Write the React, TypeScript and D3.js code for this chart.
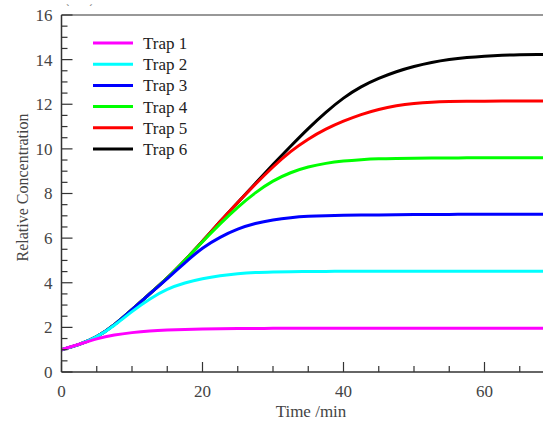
import React from "react";
import * as d3 from "d3";

const times = [0, 2.5, 5, 7.5, 10, 12.5, 15, 17.5, 20, 22.5, 25, 27.5, 30, 32.5, 35, 37.5, 40, 42.5, 45, 47.5, 50, 52.5, 55, 57.5, 60, 62.5, 65, 67.5, 70];

const trap1 = [1.0, 1.24, 1.5, 1.67, 1.77, 1.84, 1.88, 1.91, 1.93, 1.94, 1.95, 1.95, 1.96, 1.96, 1.96, 1.96, 1.96, 1.96, 1.96, 1.96, 1.96, 1.96, 1.96, 1.96, 1.96, 1.96, 1.96, 1.96, 1.96];
const trap2 = [1.0, 1.22, 1.55, 2.08, 2.72, 3.28, 3.73, 4.0, 4.19, 4.32, 4.41, 4.46, 4.48, 4.5, 4.5, 4.51, 4.51, 4.52, 4.52, 4.52, 4.52, 4.52, 4.52, 4.52, 4.52, 4.52, 4.52, 4.52, 4.52];
const trap3 = [1.0, 1.22, 1.55, 2.1, 2.8, 3.5, 4.18, 4.9, 5.58, 6.05, 6.42, 6.67, 6.82, 6.92, 6.98, 7.01, 7.03, 7.04, 7.04, 7.05, 7.06, 7.06, 7.06, 7.07, 7.07, 7.07, 7.07, 7.07, 7.07];
const trap4 = [1.0, 1.22, 1.55, 2.1, 2.8, 3.5, 4.2, 5.0, 5.85, 6.65, 7.4, 8.05, 8.58, 8.95, 9.2, 9.36, 9.46, 9.52, 9.56, 9.57, 9.58, 9.59, 9.59, 9.6, 9.6, 9.6, 9.6, 9.6, 9.6];
const trap5 = [1.0, 1.22, 1.55, 2.1, 2.8, 3.5, 4.2, 5.0, 5.85, 6.75, 7.6, 8.42, 9.2, 9.9, 10.45, 10.9, 11.25, 11.55, 11.78, 11.94, 12.04, 12.1, 12.12, 12.13, 12.14, 12.15, 12.15, 12.15, 12.15];
const trap6 = [1.0, 1.22, 1.55, 2.1, 2.8, 3.5, 4.2, 5.0, 5.85, 6.75, 7.6, 8.45, 9.3, 10.12, 10.92, 11.65, 12.3, 12.8, 13.17, 13.47, 13.7, 13.88, 14.01, 14.1, 14.16, 14.2, 14.22, 14.23, 14.24];

const seriesNames = ["Trap 1", "Trap 2", "Trap 3", "Trap 4", "Trap 5", "Trap 6"];
const seriesValues = [trap1, trap2, trap3, trap4, trap5, trap6];
const seriesColors = ["#ff00ff", "#00ffff", "#0000ff", "#00ff00", "#ff0000", "#000000"];

const xTicks = [0, 20, 40, 60];
const yTicks = [0, 2, 4, 6, 8, 10, 12, 14, 16];

const W = 543;
const H = 422;
const left = 61.5;
const top = 15;
const bottom = 372;
const pxPerMin = 7.05;

const FONT = "'Liberation Serif', 'Times New Roman', Tinos, 'Nimbus Roman', FreeSerif, 'DejaVu Serif', Times, serif";

export default function App() {
  const x = d3.scaleLinear().domain([0, 70]).range([left, left + 70 * pxPerMin]);
  const y = d3.scaleLinear().domain([0, 16]).range([bottom, top]);
  const line = d3
    .line<[number, number]>()
    .x((d) => x(d[0]))
    .y((d) => y(d[1]))
    .curve(d3.curveBasis);

  const xMinor = d3.range(0, 71, 5).filter((t) => t % 20 !== 0);
  const yMinor = d3.range(0, 16.01, 0.5).filter((v) => v % 2 !== 0);
  const axisColor = "#333";
  const textColor = "#444";
  const ts = { fontFamily: FONT };

  const order = [5, 4, 3, 2, 1, 0];

  return (
    <svg width={W} height={H} style={{ position: "absolute", left: 0, top: 0, background: "#fff" }}>
      <defs>
        <clipPath id="plot">
          <rect x={left} y={top} width={W - left} height={bottom - top} />
        </clipPath>
      </defs>
      <g clipPath="url(#plot)">
        {order.map((i) => (
          <path
            key={i}
            d={line(times.map((t, k) => [t, seriesValues[i][k]]) as [number, number][]) || ""}
            fill="none"
            stroke={seriesColors[i]}
            strokeWidth={3}
          />
        ))}
      </g>
      <line x1={left} x2={left} y1={top} y2={bottom} stroke={axisColor} strokeWidth={1.5} />
      <line x1={left} x2={W} y1={bottom} y2={bottom} stroke={axisColor} strokeWidth={1.5} />
      <line x1={left} x2={W} y1={top} y2={top} stroke={axisColor} strokeWidth={1.2} />
      {yTicks.map((v) => (
        <g key={"y" + v}>
          <line x1={left} x2={left + 11} y1={y(v)} y2={y(v)} stroke={axisColor} strokeWidth={1.2} />
          <text x={left - 9} y={y(v)} dy="0.35em" textAnchor="end" fontSize={17} fill={textColor} style={ts}>
            {v}
          </text>
        </g>
      ))}
      {yMinor.map((v) => (
        <line key={"ym" + v} x1={left} x2={left + 6} y1={y(v)} y2={y(v)} stroke={axisColor} strokeWidth={1.2} />
      ))}
      {xTicks.map((t) => (
        <g key={"x" + t}>
          <line x1={x(t)} x2={x(t)} y1={bottom} y2={bottom - 10} stroke={axisColor} strokeWidth={1.2} />
          <text x={x(t)} y={397} textAnchor="middle" fontSize={17} fill={textColor} style={ts}>
            {t}
          </text>
        </g>
      ))}
      {xMinor.map((t) => (
        <line key={"xm" + t} x1={x(t)} x2={x(t)} y1={bottom} y2={bottom - 6} stroke={axisColor} strokeWidth={1.2} />
      ))}
      <text x={311} y={417} textAnchor="middle" fontSize={17} fill={textColor} style={ts}>
        Time /min
      </text>
      <text
        transform={`translate(28, ${(top + bottom) / 2 - 6}) rotate(-90)`}
        textAnchor="middle"
        fontSize={16}
        fill={textColor}
        style={ts}
      >
        Relative Concentration
      </text>
      <text x={66} y={12} fontSize={11} fill="#555" style={ts}>ˋ</text>
      <text x={89} y={12} fontSize={11} fill="#555" style={ts}>ˊ</text>
      {seriesNames.map((name, i) => {
        const ly = 43 + i * 21.2;
        return (
          <g key={name}>
            <line x1={93} x2={133} y1={ly} y2={ly} stroke={seriesColors[i]} strokeWidth={3} />
            <text x={143} y={ly} dy="0.35em" fontSize={17} fill="#222" style={ts}>
              {name}
            </text>
          </g>
        );
      })}
    </svg>
  );
}
